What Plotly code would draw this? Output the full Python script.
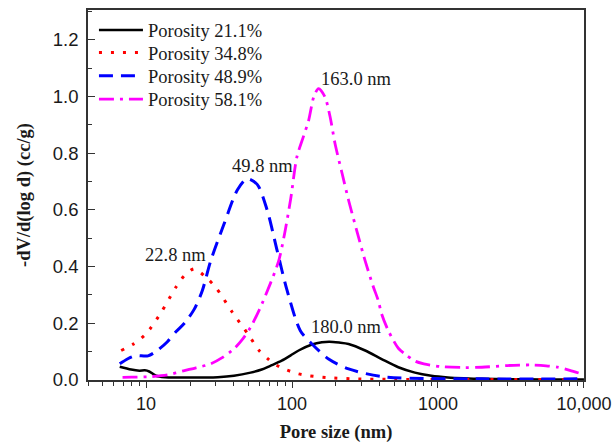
import numpy as np
import plotly.graph_objects as go

# ---------------- data ----------------
names = ["Porosity 21.1%", "Porosity 34.8%", "Porosity 48.9%", "Porosity 58.1%"]

d_211 = [6.6, 7.9, 9.0, 9.8, 10.5, 11.7, 13.5, 16, 20, 25, 31, 40, 52, 62, 71, 85, 97.5, 111, 137, 160,
         180, 210, 244, 317, 411, 535, 695, 900, 1170, 1500, 2000, 3000, 5000, 10000]
v_211 = [0.047, 0.037, 0.033, 0.034, 0.030, 0.015, 0.010, 0.009, 0.009, 0.009, 0.010, 0.015, 0.026, 0.037,
         0.050, 0.068, 0.086, 0.104, 0.125, 0.133, 0.135, 0.132, 0.127, 0.104, 0.074, 0.045, 0.026, 0.015,
         0.009, 0.006, 0.004, 0.003, 0.002, 0.002]

d_348 = [6.75, 8.3, 10, 12.7, 16, 18.3, 21.4, 25.6, 30, 39, 50.7, 59.3, 70, 83, 108, 130, 180, 270, 500,
         1000, 3000, 10000]
v_348 = [0.104, 0.129, 0.163, 0.239, 0.327, 0.368, 0.392, 0.363, 0.327, 0.239, 0.157, 0.105, 0.070, 0.045,
         0.023, 0.015, 0.008, 0.004, 0.002, 0.002, 0.002, 0.002]

d_489 = [6.6, 7.5, 8.5, 10.3, 12, 14, 16, 18.3, 21.4, 24.3, 27.7, 34.2, 42.2, 49.3, 57.7, 67.5, 79, 92.5,
         114, 137, 178, 244, 411, 900, 2000, 10000]
v_489 = [0.057, 0.075, 0.086, 0.085, 0.105, 0.135, 0.170, 0.200, 0.250, 0.316, 0.420, 0.550, 0.670, 0.710,
         0.690, 0.600, 0.457, 0.316, 0.174, 0.127, 0.074, 0.039, 0.012, 0.005, 0.004, 0.004]

d_581 = [6.9, 8, 10.8, 14, 18.3, 22, 27.7, 33, 40, 46, 52, 60, 71, 81, 88, 98, 108, 120, 130, 141, 152, 168,
         182, 197, 220, 244, 280, 317, 360, 390, 411, 457, 535, 600, 700, 800, 1054, 1500, 2000, 3000, 4300,
         5500, 6600, 8000, 10000]
v_581 = [0.009, 0.010, 0.012, 0.018, 0.033, 0.043, 0.057, 0.078, 0.110, 0.145, 0.186, 0.250, 0.340, 0.420,
         0.504, 0.640, 0.787, 0.860, 0.916, 0.999, 1.028, 0.999, 0.930, 0.834, 0.730, 0.634, 0.520, 0.420,
         0.330, 0.280, 0.233, 0.174, 0.112, 0.090, 0.066, 0.057, 0.047, 0.044, 0.045, 0.051, 0.053, 0.050,
         0.045, 0.034, 0.019]

peak_labels = ["180.0 nm", "22.8 nm", "49.8 nm", "163.0 nm"]
peak_sizes = [180.0, 22.8, 49.8, 163.0]

x_tickvals = [10, 100, 1000, 10000]
x_ticktext = ["10", "100", "1000", "10,000"]

# ---------------- styles ----------------
xs = [d_211, d_348, d_489, d_581]
ys = [v_211, v_348, v_489, v_581]
colors = ["#000000", "#FF0000", "#0000FF", "#FF00FF"]
dashes = ["solid", "3px,9px", "14px,8px", "15px,6px,3px,6px"]
widths = [2.5, 3, 3, 2.8]
label_shift = [(17, 15), (-23, 14), (15, 13), (33, 10)]
legend_ids = ["legend", "legend2", "legend3", "legend4"]
legend_rows = [0.945, 0.884, 0.821, 0.758]

SERIF = "Liberation Serif, Times New Roman, serif"
SANS = "Liberation Sans, Arial, sans-serif"

fig = go.Figure()
for x, y, n, c, da, w, lg in zip(xs, ys, names, colors, dashes, widths, legend_ids):
    fig.add_trace(go.Scatter(x=x, y=y, name=n, mode="lines", legend=lg,
                             line=dict(color=c, dash=da, width=w, shape="spline", smoothing=0.8)))

for lab, size, y, (dx, dy) in zip(peak_labels, peak_sizes, ys, label_shift):
    fig.add_annotation(x=np.log10(size), y=max(y), text=lab, showarrow=False,
                       xshift=dx, yshift=dy, xanchor="center", yanchor="middle",
                       font=dict(family=SERIF, size=18.5, color="#1a1a1a"))

minor_vals = [m * 10 ** e for e in range(0, 4) for m in range(2, 10) if 4 <= m * 10 ** e <= 10000]

axis_line = dict(showline=True, linecolor="#333333", linewidth=1.5, mirror=True,
                 showgrid=False, zeroline=False, automargin=False)

legend_style = dict(x=0.012, xanchor="left", yanchor="middle", bgcolor="rgba(0,0,0,0)",
                    font=dict(family=SERIF, size=18.5, color="#1a1a1a"), itemwidth=44)
legends = {lg: dict(y=yy, **legend_style) for lg, yy in zip(legend_ids, legend_rows)}

fig.update_layout(
    width=612, height=443, autosize=False,
    margin=dict(l=88, r=28, t=10, b=63),
    plot_bgcolor="white", paper_bgcolor="white",
    showlegend=True,
    xaxis=dict(type="log", range=[np.log10(4), 4.0005], tickvals=x_tickvals, ticktext=x_ticktext,
               ticks="outside", ticklen=6, tickwidth=1.3, tickcolor="#333333",
               minor=dict(tickvals=minor_vals, ticks="outside", ticklen=4, tickwidth=1.1, tickcolor="#333333"),
               tickfont=dict(family=SANS, size=18, color="#1a1a1a"), ticklabelstandoff=1,
               ticklabeloverflow="allow",
               title=dict(text="Pore size (nm)", standoff=13,
                          font=dict(family=SERIF, size=18.5, color="#1a1a1a", weight="bold")),
               **axis_line),
    yaxis=dict(range=[0, 1.305], dtick=0.2, tick0=0, tickformat=".1f",
               ticks="inside", ticklen=7, tickwidth=1.3, tickcolor="#333333",
               minor=dict(dtick=0.1, ticks="inside", ticklen=4, tickwidth=1.1, tickcolor="#333333"),
               tickfont=dict(family=SANS, size=18.5, color="#1a1a1a"), ticklabelstandoff=4,
               title=dict(text="-dV/d(log d) (cc/g)", standoff=17,
                          font=dict(family=SERIF, size=18.5, color="#1a1a1a", weight="bold")),
               **axis_line),
    **legends,
)

fig.write_html("out.html", config={"displayModeBar": False},
               post_script="document.body.style.margin='0';")
